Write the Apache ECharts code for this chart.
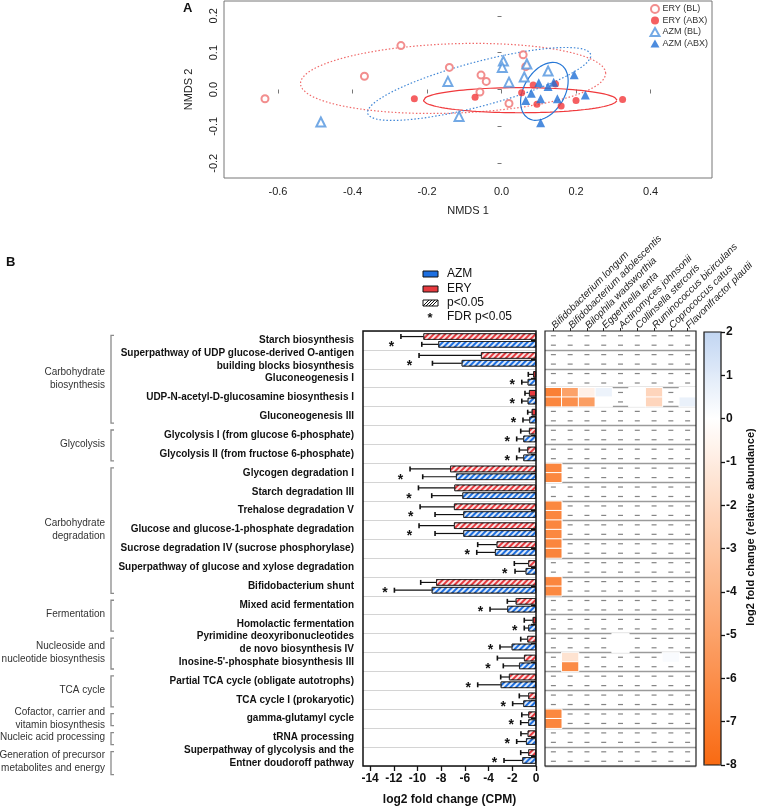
<!DOCTYPE html>
<html>
<head>
<meta charset="utf-8">
<script src="https://cdn.jsdelivr.net/npm/echarts@6/dist/echarts.min.js"></script>
<style>
  html, body { margin: 0; padding: 0; background: #fff; }
  #main { width: 758px; height: 807px; }
</style>
</head>
<body>
<div id="main"></div>
<script>
// ---------- panel A : NMDS ----------
const eryBL = [[-0.635,-0.025],[-0.368,0.036],[-0.27,0.119],[-0.14,0.06],[-0.055,0.039],[-0.041,0.022],[-0.058,-0.007],[0.058,0.094],[0.065,0.062],[0.02,-0.038]];
const eryABX = [[-0.234,-0.025],[-0.071,-0.021],[0.054,-0.009],[0.085,0.012],[0.095,-0.04],[0.145,0.015],[0.16,-0.045],[0.2,-0.03],[0.325,-0.027]];
const azmBL = [[-0.485,-0.088],[-0.144,0.022],[-0.114,-0.073],[0.005,0.077],[0.002,0.06],[0.068,0.069],[0.02,0.02],[0.061,0.034],[0.125,0.05]];
const azmABX = [[0.08,-0.01],[0.1,0.018],[0.125,0.008],[0.14,0.02],[0.195,0.04],[0.065,-0.03],[0.105,-0.025],[0.15,-0.025],[0.225,-0.015],[0.105,-0.09]];
// ellipse: centre x, centre y, semi-axis a, semi-axis b, angle (deg)
const ellERYBL = [-0.13, 0.03, 0.41, 0.094, 2];
const ellERYABX = [0.05, -0.029, 0.26, 0.034, 0];
const ellAZMBL = [-0.06, 0.015, 0.31, 0.06, 15];
const ellAZMABX = [0.115, -0.005, 0.085, 0.055, 60];
const nmdsXTicks = [-0.6, -0.4, -0.2, 0, 0.2, 0.4];
const nmdsYTicks = [-0.2, -0.1, 0, 0.1, 0.2];

// ---------- panel B : bars ----------
const pathways = [
  'Starch biosynthesis',
  'Superpathway of UDP glucose-derived O-antigen\nbuilding blocks biosynthesis',
  'Gluconeogenesis I',
  'UDP-N-acetyl-D-glucosamine biosynthesis I',
  'Gluconeogenesis III',
  'Glycolysis I (from glucose 6-phosphate)',
  'Glycolysis II (from fructose 6-phosphate)',
  'Glycogen degradation I',
  'Starch degradation III',
  'Trehalose degradation V',
  'Glucose and glucose-1-phosphate degradation',
  'Sucrose degradation IV (sucrose phosphorylase)',
  'Superpathway of glucose and xylose degradation',
  'Bifidobacterium shunt',
  'Mixed acid fermentation',
  'Homolactic fermentation',
  'Pyrimidine deoxyribonucleotides\nde novo biosynthesis IV',
  "Inosine-5'-phosphate biosynthesis III",
  'Partial TCA cycle (obligate autotrophs)',
  'TCA cycle I (prokaryotic)',
  'gamma-glutamyl cycle',
  'tRNA processing',
  'Superpathway of glycolysis and the\nEntner doudoroff pathway'
];
const groups = [
  ['Carbohydrate\nbiosynthesis', 0, 4],
  ['Glycolysis', 5, 6],
  ['Carbohydrate\ndegradation', 7, 13],
  ['Fermentation', 14, 15],
  ['Nucleoside and\nnucleotide biosynthesis', 16, 17],
  ['TCA cycle', 18, 19],
  ['Cofactor, carrier and\nvitamin biosynthesis', 20, 20],
  ['Nucleic acid processing', 21, 21],
  ['Generation of precursor\nmetabolites and energy', 22, 22]
];
const eryVal = [-9.5,-4.64,-0.23,-0.59,-0.36,-0.59,-0.73,-7.25,-6.89,-6.92,-6.92,-3.32,-0.65,-8.43,-1.71,-0.28,-0.73,-1.01,-2.28,-0.65,-0.65,-0.7,-0.65];
const eryErr = [1.9,5.23,0.42,0.34,0.34,0.7,0.68,3.38,3.03,2.86,2.95,1.6,1.18,1.3,0.71,0.71,0.56,2.25,0.7,0.76,0.55,0.57,0.64];
const azmVal = [-8.24,-6.27,-0.7,-0.7,-0.56,-1.07,-1.07,-6.75,-6.21,-6.13,-6.13,-3.46,-0.87,-8.8,-2.42,-0.65,-2.05,-1.43,-2.98,-1.07,-0.65,-0.84,-1.15];
const azmErr = [1.4,2.47,0.5,0.5,0.54,0.56,0.56,2.81,2.59,2.39,2.39,1.54,0.9,3.15,1.46,0.34,0.99,1.33,1.94,0.9,0.64,0.79,1.55];
const eryP05 = [1,1,0,0,0,1,1,1,1,1,1,1,1,1,1,0,1,1,1,1,1,1,1];
const azmP05 = [1,1,1,1,1,1,1,1,1,1,1,1,1,1,1,1,1,1,1,1,1,1,1];
const azmFDR = [1,1,1,1,1,1,1,1,1,1,1,1,1,1,1,1,1,1,1,1,1,1,1];
const cpmTicks = [-14, -12, -10, -8, -6, -4, -2, 0];

// ---------- panel B : heatmap ----------
const species = ['Bifidobacterium longum','Bifidobacterium adolescentis','Bilophila wadsworthia','Eggerthella lenta','Actinomyces johnsonii','Collinsella stercoris','Ruminococcus bicirculans','Coprococcus catus','Flavonifractor plautii'];
const N = null;
const heatEry = [
  [N,N,N,N,N,N,N,N,N],
  [N,N,N,N,N,N,N,N,N],
  [N,N,N,N,N,N,N,N,N],
  [-6.8,-5.0,-0.8,0.6,N,0,-2.2,N,0],
  [N,N,N,N,N,N,N,N,N],
  [N,N,N,N,N,N,N,N,N],
  [N,N,N,N,N,N,N,N,N],
  [-6.5,N,N,N,N,N,N,N,N],
  [N,N,N,N,N,N,N,N,N],
  [-6.4,N,N,N,N,N,N,N,N],
  [-6.5,N,N,N,N,N,N,N,N],
  [-6.5,N,N,N,N,N,N,N,N],
  [N,N,N,N,N,N,N,N,N],
  [-6.5,N,N,N,N,N,N,N,N],
  [N,N,N,N,N,N,N,N,N],
  [N,N,N,N,N,N,N,N,N],
  [N,N,N,N,0,N,N,N,N],
  [N,-1.5,N,N,N,N,N,0.2,N],
  [N,N,N,N,N,N,N,N,N],
  [N,N,N,N,N,N,N,N,N],
  [-6.4,N,N,N,N,N,N,N,N],
  [N,N,N,N,N,N,N,N,N],
  [N,N,N,N,N,N,N,N,N]
];
const heatAzm = [
  [N,N,N,N,N,N,N,N,N],
  [N,N,N,N,N,N,N,N,N],
  [N,N,N,N,N,N,N,N,N],
  [-6.5,-6.0,-5.2,0,N,0,-2.2,N,0.7],
  [N,N,N,N,N,N,N,N,N],
  [N,N,N,N,N,N,N,N,N],
  [N,N,N,N,N,N,N,N,N],
  [-6.4,N,N,N,N,N,N,N,N],
  [N,N,N,N,N,N,N,N,N],
  [-6.5,N,N,N,N,N,N,N,N],
  [-6.4,N,N,N,N,N,N,N,N],
  [-6.6,N,N,N,N,N,N,N,N],
  [N,N,N,N,N,N,N,N,N],
  [-6.4,N,N,N,N,N,N,N,N],
  [N,N,N,N,N,N,N,N,N],
  [N,N,N,N,N,N,N,N,N],
  [N,N,N,N,0,N,N,N,N],
  [N,-6.2,N,N,N,N,N,N,N],
  [N,N,N,N,N,N,N,N,N],
  [N,N,N,N,N,N,N,N,N],
  [-6.5,N,N,N,N,N,N,N,N],
  [N,N,N,N,N,N,N,N,N],
  [N,N,N,N,N,N,N,N,N]
];
const scaleStops = ['#f96a12', '#fb8f4c', '#fcb486', '#fed9c2', '#ffffff', '#c2d6f2'];

const FONT = 'Liberation Sans, Arial, sans-serif';
const RED = '#e63a3f', BLUE = '#1d6fe0';

function ellipsePoints(e) {
  const [cx, cy, a, b, deg] = e;
  const th = deg * Math.PI / 180;
  const pts = [];
  for (let i = 0; i <= 120; i++) {
    const t = i / 120 * 2 * Math.PI;
    const x = a * Math.cos(t), y = b * Math.sin(t);
    pts.push([cx + x * Math.cos(th) - y * Math.sin(th), cy + x * Math.sin(th) + y * Math.cos(th)]);
  }
  return pts;
}

const hatch = { symbol: 'rect', symbolSize: 1, color: 'rgba(255,255,255,0.85)', dashArrayX: [1, 0], dashArrayY: [1.5, 2], rotation: -Math.PI / 4 };
const noHatch = { symbol: 'none' };

const subRows = [];
pathways.forEach((p, i) => { subRows.push(i + 'e'); subRows.push(i + 'a'); });
const heatData = [], dashData = [];
pathways.forEach((p, r) => {
  [heatEry[r], heatAzm[r]].forEach((vals, s) => {
    vals.forEach((v, c) => {
      if (v === null) dashData.push([c, r * 2 + s]);
      else heatData.push([c, r * 2 + s, v]);
    });
  });
});

const errData = [];
pathways.forEach((p, i) => {
  errData.push([i, eryVal[i] - eryErr[i], eryVal[i], -1]);
  errData.push([i, azmVal[i] - azmErr[i], azmVal[i], 1]);
});
const starData = [];
pathways.forEach((p, i) => {
  if (azmFDR[i]) starData.push([i, Math.min(eryVal[i] - eryErr[i], azmVal[i] - azmErr[i]) - 0.8]);
});

const chart = echarts.init(document.getElementById('main'));

const option = {
  animation: false,
  textStyle: { fontFamily: FONT },
  grid: [
    { left: 224, top: 1, width: 488, height: 177, show: true, borderColor: '#777', borderWidth: 1, backgroundColor: 'transparent', outerBoundsMode: 'none' },
    { left: 363, top: 331, width: 173, height: 435, show: true, borderColor: '#111', borderWidth: 1.5, backgroundColor: 'transparent', outerBoundsMode: 'none', z: 5 },
    { left: 545, top: 331, width: 151, height: 435, show: true, borderColor: '#222', borderWidth: 1.2, backgroundColor: 'transparent', outerBoundsMode: 'none', z: 5 },
    { left: 704, top: 332, width: 17, height: 433, show: true, borderColor: '#111', borderWidth: 1.2, backgroundColor: 'transparent', outerBoundsMode: 'none', z: 10 }
  ],
  xAxis: [
    {
      type: 'value', gridIndex: 0, min: -0.745, max: 0.565,
      axisLine: { show: false }, splitLine: { show: false },
      axisTick: { show: true, length: 4, lineStyle: { color: '#777' }, customValues: nmdsXTicks },
      axisLabel: { customValues: nmdsXTicks, formatter: v => v.toFixed(1), fontSize: 11, color: '#222', margin: 8 },
      name: 'NMDS 1', nameLocation: 'middle', nameGap: 27, nameTextStyle: { fontSize: 11, color: '#222' }
    },
    {
      type: 'value', gridIndex: 1, min: -14.6, max: 0,
      axisLine: { show: false }, splitLine: { show: false },
      axisTick: { show: true, length: 5, lineStyle: { color: '#111', width: 1.3 }, customValues: cpmTicks },
      axisLabel: { customValues: cpmTicks, fontSize: 12, fontWeight: 'bold', color: '#111', margin: 7 },
      name: 'log2 fold change (CPM)', nameLocation: 'middle', nameGap: 28,
      nameTextStyle: { fontSize: 12, fontWeight: 'bold', color: '#111' }
    },
    {
      type: 'category', gridIndex: 2, position: 'top', data: species,
      axisLine: { show: false }, splitLine: { show: false },
      axisTick: { show: true, alignWithLabel: true, length: 3, lineStyle: { color: '#222' } },
      axisLabel: { rotate: -45, interval: 0, fontSize: 10, fontStyle: 'italic', color: '#222', margin: 4 }
    },
    {
      type: 'category', gridIndex: 3, data: ['c'], show: false
    }
  ],
  yAxis: [
    {
      type: 'value', gridIndex: 0, min: -0.24, max: 0.24,
      axisLine: { show: false }, splitLine: { show: false },
      axisTick: { show: true, length: 4, lineStyle: { color: '#777' }, customValues: nmdsYTicks },
      axisLabel: { customValues: nmdsYTicks, formatter: v => v.toFixed(1), rotate: 90, fontSize: 11, color: '#222', margin: 5 },
      name: 'NMDS 2', nameLocation: 'middle', nameGap: 30, nameRotate: 90, nameTextStyle: { fontSize: 11, color: '#222' }
    },
    {
      type: 'category', gridIndex: 1, data: pathways, inverse: true, offset: 6,
      axisLine: { show: false },
      axisTick: { show: true, alignWithLabel: true, length: 5, lineStyle: { color: '#111', width: 1.3 } },
      splitLine: { show: true, interval: 0, lineStyle: { color: '#d4d4d4', width: 1 } },
      axisLabel: { interval: 0, fontSize: 10, fontWeight: 'bold', color: '#111', lineHeight: 13, margin: 3 }
    },
    {
      type: 'category', gridIndex: 2, data: subRows, inverse: true,
      axisLine: { show: false }, axisTick: { show: false }, axisLabel: { show: false },
      splitLine: { show: true, interval: (i) => i > 0 && i % 2 === 0, lineStyle: { color: '#9a9a9a', width: 1.4 } }
    },
    {
      type: 'value', gridIndex: 3, min: -8, max: 2, interval: 1, position: 'right',
      axisLine: { show: false }, splitLine: { show: false },
      axisTick: { show: true, length: 4, lineStyle: { color: '#111', width: 1.3 } },
      axisLabel: { fontSize: 12, fontWeight: 'bold', color: '#111', margin: 5 }
    }
  ],
  legend: {
    data: ['ERY (BL)', 'ERY (ABX)', 'AZM (BL)', 'AZM (ABX)'],
    orient: 'vertical', right: 50, top: 4, itemGap: 2, itemWidth: 9, itemHeight: 8,
    selectedMode: false, padding: 0,
    textStyle: { fontSize: 9, color: '#333', padding: [0, 0, 0, -2] }
  },
  visualMap: {
    type: 'continuous', seriesIndex: 12, dimension: 2, min: -8, max: 2,
    inRange: { color: scaleStops }, calculable: false, hoverLink: false,
    left: 704, top: 332, itemWidth: 17, itemHeight: 433, padding: 0, text: null
  },
  series: [
    { name: 'ERY (BL)', type: 'scatter', xAxisIndex: 0, yAxisIndex: 0, data: eryBL, symbol: 'emptyCircle', symbolSize: 7,
      itemStyle: { color: '#ef7272', borderWidth: 1 }, z: 4 },
    { name: 'ERY (ABX)', type: 'scatter', xAxisIndex: 0, yAxisIndex: 0, data: eryABX, symbol: 'circle', symbolSize: 7,
      itemStyle: { color: '#f2373a' }, z: 4 },
    { name: 'AZM (BL)', type: 'scatter', xAxisIndex: 0, yAxisIndex: 0, data: azmBL, symbol: 'emptyTriangle', symbolSize: 9,
      itemStyle: { color: '#5094de', borderWidth: 1 }, z: 4 },
    { name: 'AZM (ABX)', type: 'scatter', xAxisIndex: 0, yAxisIndex: 0, data: azmABX, symbol: 'triangle', symbolSize: 9,
      itemStyle: { color: '#1f6fd6' }, z: 4 },
    { type: 'line', xAxisIndex: 0, yAxisIndex: 0, data: ellipsePoints(ellERYBL), showSymbol: false, silent: true,
      lineStyle: { color: '#f06b6b', width: 1.2, type: [1.5, 2] } },
    { type: 'line', xAxisIndex: 0, yAxisIndex: 0, data: ellipsePoints(ellERYABX), showSymbol: false, silent: true,
      lineStyle: { color: '#f0393c', width: 1.2 } },
    { type: 'line', xAxisIndex: 0, yAxisIndex: 0, data: ellipsePoints(ellAZMBL), showSymbol: false, silent: true,
      lineStyle: { color: '#3f86d6', width: 1.2, type: [1.5, 2] } },
    { type: 'line', xAxisIndex: 0, yAxisIndex: 0, data: ellipsePoints(ellAZMABX), showSymbol: false, silent: true,
      lineStyle: { color: '#2677d6', width: 1.2 } },
    { name: 'ERY', type: 'bar', xAxisIndex: 1, yAxisIndex: 1, barWidth: 6.5, barGap: '20%',
      data: eryVal.map((v, i) => ({ value: v, itemStyle: { decal: eryP05[i] ? hatch : noHatch } })),
      itemStyle: { color: RED, borderColor: '#1a1a1a', borderWidth: 0.8 } },
    { name: 'AZM', type: 'bar', xAxisIndex: 1, yAxisIndex: 1, barWidth: 6.5, barGap: '20%',
      data: azmVal.map((v, i) => ({ value: v, itemStyle: { decal: azmP05[i] ? hatch : noHatch } })),
      itemStyle: { color: BLUE, borderColor: '#1a1a1a', borderWidth: 0.8 } },
    { type: 'custom', xAxisIndex: 1, yAxisIndex: 1, data: errData, encode: { x: [1, 2], y: 0 }, z: 6, silent: true,
      renderItem: function (params, api) {
        const row = api.value(0), lo = api.value(1), base = api.value(2), side = api.value(3);
        const band = api.size([0, 1])[1];
        const a = api.coord([base, row]);
        const b = api.coord([lo, row]);
        const y = a[1] + side * band * 0.206;
        return { type: 'group', children: [
          { type: 'line', shape: { x1: a[0], y1: y, x2: b[0], y2: y }, style: { stroke: '#111', lineWidth: 1.2 } },
          { type: 'line', shape: { x1: b[0], y1: y - 2.5, x2: b[0], y2: y + 2.5 }, style: { stroke: '#111', lineWidth: 1.6 } }
        ] };
      } },
    { type: 'custom', xAxisIndex: 1, yAxisIndex: 1, data: starData, encode: { x: 1, y: 0 }, z: 6, silent: true,
      renderItem: function (params, api) {
        const band = api.size([0, 1])[1];
        const p = api.coord([api.value(1), api.value(0)]);
        return { type: 'text', x: p[0], y: p[1] + band * 0.206 + 3,
          style: { text: '*', fontSize: 14, fontWeight: 'bold', fontFamily: FONT, fill: '#111', align: 'center', verticalAlign: 'middle' } };
      } },
    { type: 'heatmap', xAxisIndex: 2, yAxisIndex: 2, data: heatData,
      itemStyle: { borderColor: '#fff', borderWidth: 1 } },
    { type: 'scatter', xAxisIndex: 2, yAxisIndex: 2, data: dashData, symbol: 'rect', symbolSize: [5, 1.2],
      itemStyle: { color: '#666' }, silent: true }
  ]
};
chart.setOption(option);

// group brackets and texts from the category scale
const graphic = [];
groups.forEach(([label, r0, r1], gi) => {
  const y0 = chart.convertToPixel({ yAxisIndex: 1 }, r0) - 5;
  const y1 = chart.convertToPixel({ yAxisIndex: 1 }, r1) + (gi === groups.length - 1 ? 18 : 7);
  const x = 111;
  graphic.push({ type: 'polyline', shape: { points: [[x + 3, y0], [x, y0], [x, y1], [x + 3, y1]] },
    style: { stroke: '#8a8a8a', lineWidth: 1.3, fill: null } });
  graphic.push({ type: 'text', x: 105, y: (y0 + y1) / 2 - 1,
    style: { text: label, fontSize: 10, fontFamily: FONT, fill: '#333', align: 'right', verticalAlign: 'middle', lineHeight: 13 } });
});
// panel B legend
const lx = 423;
graphic.push({ type: 'rect', shape: { x: lx, y: 271, width: 15, height: 6 }, style: { fill: BLUE, stroke: '#111', lineWidth: 1 } });
graphic.push({ type: 'rect', shape: { x: lx, y: 286, width: 15, height: 6 }, style: { fill: RED, stroke: '#111', lineWidth: 1 } });
graphic.push({ type: 'rect', shape: { x: lx, y: 300, width: 15, height: 6 }, style: { fill: '#fff', stroke: '#111', lineWidth: 1 } });
[0, 3, 6, 9].forEach(d => {
  graphic.push({ type: 'line', shape: { x1: lx + d, y1: 306, x2: lx + d + 6, y2: 300 }, style: { stroke: '#111', lineWidth: 1 } });
});
graphic.push({ type: 'text', x: lx + 7, y: 318, style: { text: '*', fontSize: 13, fontWeight: 'bold', fontFamily: FONT, fill: '#111', align: 'center', verticalAlign: 'middle' } });
[['AZM', 274], ['ERY', 289], ['p<0.05', 303], ['FDR p<0.05', 317]].forEach(([t, y]) => {
  graphic.push({ type: 'text', x: 447, y: y, style: { text: t, fontSize: 12, fontFamily: FONT, fill: '#111', verticalAlign: 'middle' } });
});
// colour bar title
graphic.push({ type: 'text', x: 751, y: 527, rotation: Math.PI / 2,
  style: { text: 'log2 fold change (relative abundance)', fontSize: 11, fontWeight: 'bold', fontFamily: FONT, fill: '#111', align: 'center', verticalAlign: 'middle' } });
// panel letters
graphic.push({ type: 'text', x: 183, y: 2, style: { text: 'A', fontSize: 13, fontWeight: 'bold', fontFamily: FONT, fill: '#111' } });
graphic.push({ type: 'text', x: 6, y: 256, style: { text: 'B', fontSize: 13, fontWeight: 'bold', fontFamily: FONT, fill: '#111' } });

chart.setOption({ graphic: graphic });
</script>
</body>
</html>
